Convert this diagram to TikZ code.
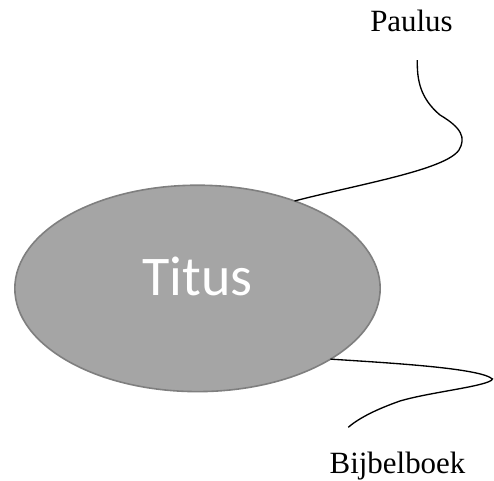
\documentclass[tikz,border=0pt]{standalone}
\usepackage{fontspec}
\setmainfont{Liberation Serif}
\newfontfamily\titusfont{Carlito}
\usetikzlibrary{shapes.geometric}
\definecolor{ellfill}{HTML}{A5A5A5}
\definecolor{elldraw}{HTML}{7F7F7F}
\tikzset{
  topic/.style={ellipse, fill=ellfill, draw=elldraw, line width=1.2pt,
    minimum width=274pt, minimum height=154.8pt, inner sep=0pt, outer sep=0pt,
    text=white, font=\titusfont\fontsize{42pt}{42pt}\selectfont},
  lbl/.style={font=\fontsize{23.2pt}{23.2pt}\selectfont, anchor=base, inner sep=0pt},
  conn/.style={draw=black, line width=1pt}
}
\begin{document}
\begin{tikzpicture}[x=0.75pt, y=-0.75pt]
\useasboundingbox (0,0) rectangle (494,480);
\node[topic] (t) at (197.5,288.4) {\raisebox{-4.95pt}[0pt][0pt]{Titus}};
\node[lbl] (p) at (411.5,31) {Paulus};
\node[lbl] (b) at (397.5,473) {Bijbelboek};
\coordinate (pe) at (417.3,60);
\coordinate (be) at (348.3,427.3);
\draw[conn] (t.42.4) .. controls (360,184) and (445,170) .. (459,150)
  .. controls (466,138) and (462,128) .. (440,115)
  .. controls (420,98) and (417,80) .. (pe);
\draw[conn] (t.-28) .. controls (390,363) and (480,368) .. (492.5,379)
  .. controls (490,386) and (430,392) .. (400,401)
  .. controls (380,408) and (360,417) .. (be);
\end{tikzpicture}
\end{document}
